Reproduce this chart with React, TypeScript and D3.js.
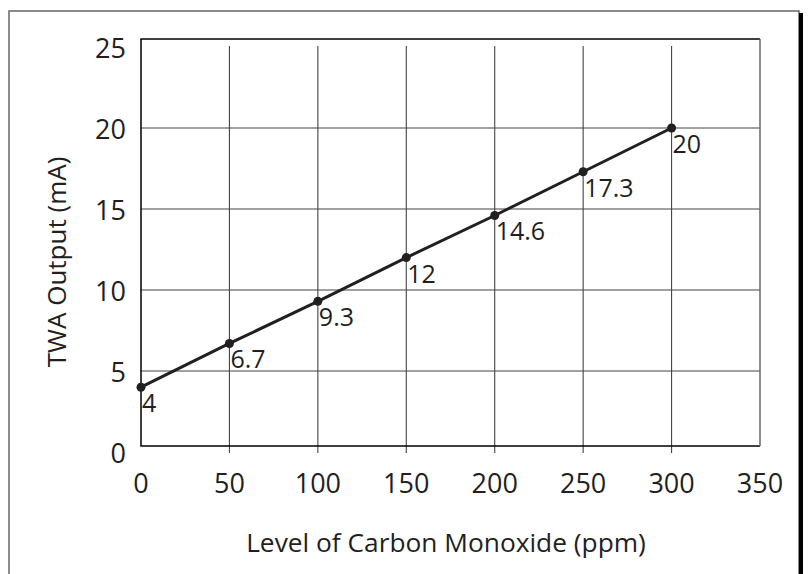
import * as d3 from "d3";

// chart data
const ppmLevels = [0, 50, 100, 150, 200, 250, 300];
const twaOutput = [4, 6.7, 9.3, 12, 14.6, 17.3, 20];
const pointLabels = ["4", "6.7", "9.3", "12", "14.6", "17.3", "20"];
const xTicks = [0, 50, 100, 150, 200, 250, 300, 350];
const yTicks = [0, 5, 10, 15, 20, 25];

const W = 812;
const H = 574;
const ink = "#231f20";
const font = "'Open Sans', 'Noto Sans', sans-serif";

export default function App() {
  const x = d3.scaleLinear().domain([0, 350]).range([141, 760]);
  const y = d3.scaleLinear().domain([0, 25]).range([452, 47]);

  // plot frame sits a bit above the data range, like the original
  const boxTop = y(25) - 8;
  const boxBottom = y(0) - 6;
  const boxLeft = x(0);
  const boxRight = x(350);

  const pts = ppmLevels.map((v, i) => [x(v), y(twaOutput[i])] as [number, number]);
  const line = d3.line()(pts);

  return (
    <svg
      width={W}
      height={H}
      style={{ position: "absolute", left: 0, top: 0, background: "#fff" }}
      fontFamily={font}
    >
      {/* outer page frame */}
      <path d={`M9,${H} V11 H799 V${H}`} fill="none" stroke="#666" strokeWidth={1.5} />
      <line x1={801} x2={801} y1={13} y2={H} stroke="#000" strokeWidth={4} />

      {/* grid */}
      {yTicks.filter(t => t > 0 && t < 25).map(t => (
        <line key={"h" + t} x1={boxLeft} x2={boxRight} y1={y(t)} y2={y(t)} stroke="#444" strokeWidth={1.1} />
      ))}
      {xTicks.filter(t => t > 0 && t < 350).map(t => (
        <line key={"v" + t} x1={x(t)} x2={x(t)} y1={y(25) - 1} y2={y(0) + 1} stroke="#444" strokeWidth={1.1} />
      ))}

      {/* plot box */}
      <path d={`M${boxRight},${boxTop} H${boxLeft} V${boxBottom} H${boxRight}`} fill="none" stroke="#000" strokeWidth={1.5} />
      <line x1={boxRight} x2={boxRight} y1={boxTop} y2={boxBottom} stroke="#666" strokeWidth={1.5} />

      {/* tick labels */}
      {yTicks.map(t => (
        <text key={"yl" + t} x={126} y={y(t)} textAnchor="end" dominantBaseline="central" fontSize={27} fill={ink}>
          {t}
        </text>
      ))}
      {xTicks.map(t => (
        <text key={"xl" + t} x={x(t)} y={493} textAnchor="middle" fontSize={27} fill={ink}>
          {t}
        </text>
      ))}

      {/* series */}
      <path d={line ?? ""} fill="none" stroke={ink} strokeWidth={3} />
      {pts.map(([px, py], i) => (
        <g key={"p" + i}>
          <circle cx={px} cy={py} r={4.5} fill={ink} />
          <text x={px + 1} y={py + 25} fontSize={25} fill={ink}>
            {pointLabels[i]}
          </text>
        </g>
      ))}

      {/* axis titles */}
      <text x={446} y={552} textAnchor="middle" fontSize={26.3} fill={ink}>
        Level of Carbon Monoxide (ppm)
      </text>
      <text
        transform={`translate(66, ${262}) rotate(-90)`}
        textAnchor="middle"
        fontSize={26}
        fill={ink}
      >
        TWA Output (mA)
      </text>
    </svg>
  );
}
